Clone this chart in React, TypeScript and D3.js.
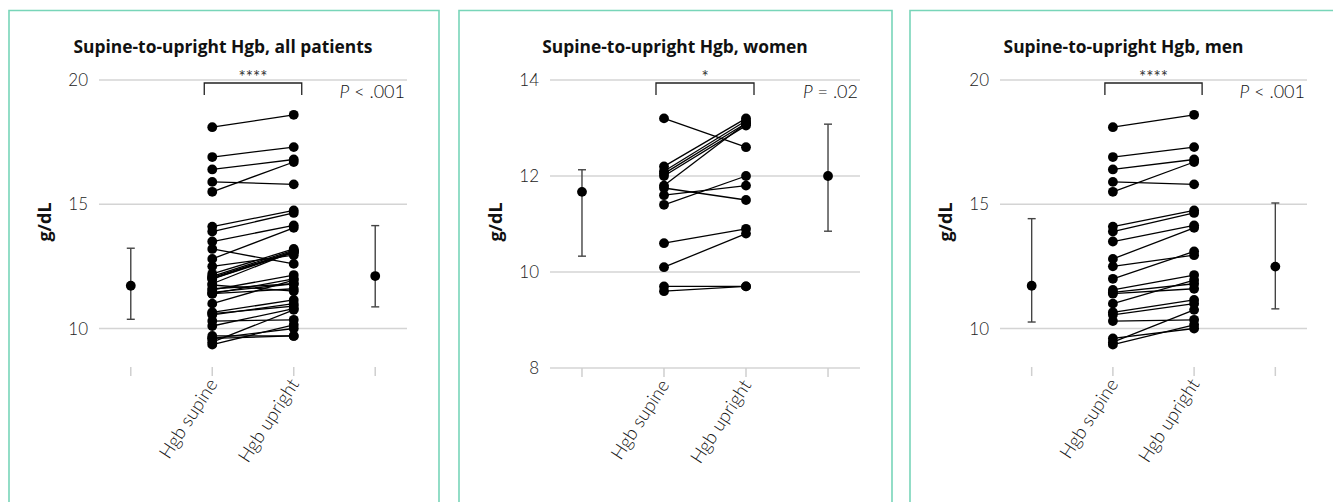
import React from "react";
import * as d3 from "d3";

// ---------- data ----------
const categories = ["mean supine", "Hgb supine", "Hgb upright", "mean upright"];
const xLabels = ["", "Hgb supine", "Hgb upright", ""];

const menSupine = [18.1, 16.9, 16.4, 15.9, 15.5, 14.1, 13.9, 13.5, 12.8, 12.5, 12.0, 11.55, 11.45, 11.4, 11.0, 10.65, 10.55, 10.3, 9.6, 9.45, 9.35];
const menUpright = [18.6, 17.3, 16.8, 15.8, 16.7, 14.75, 14.65, 14.15, 14.05, 12.95, 13.1, 12.15, 11.8, 11.6, 11.95, 11.15, 11.0, 10.35, 10.0, 10.75, 10.15];

const womenSupine = [13.2, 12.2, 12.1, 12.05, 12.0, 11.8, 11.75, 11.6, 11.4, 10.6, 10.1, 9.7, 9.6];
const womenUpright = [12.6, 13.2, 13.15, 13.1, 13.05, 13.1, 11.5, 11.8, 12.0, 10.9, 10.8, 9.7, 9.7];

const allSupine = [...menSupine, ...womenSupine];
const allUpright = [...menUpright, ...womenUpright];

// summary (mean with error bar) for supine / upright
const allMean = [11.72, 12.11];
const allLow = [10.37, 10.87];
const allHigh = [13.23, 14.14];
const womenMean = [11.67, 12.0];
const womenLow = [10.33, 10.85];
const womenHigh = [12.13, 13.08];
const menMean = [11.72, 12.49];
const menLow = [10.26, 10.79];
const menHigh = [14.42, 15.05];

const titles = ["Supine-to-upright Hgb, all patients", "Supine-to-upright Hgb, women", "Supine-to-upright Hgb, men"];
const stars = ["****", "*", "****"];
const pTexts = [" < .001", " = .02", " < .001"];
const ticksWide = [10, 15, 20];
const ticksWomen = [8, 10, 12, 14];

const TITLE_FONT = "'Open Sans', 'Noto Sans', sans-serif";
const FONT = "Lato, 'Open Sans', sans-serif";
const BORDER = "#78d5b9";

type PanelCfg = {
  left: number; right: number;
  gx0: number; gx1: number;
  domain: [number, number];
  bottom: number;
  ticks: number[];
  supine: number[]; upright: number[];
  mean: number[]; low: number[]; high: number[];
  title: string; star: string; p: string;
};

const panels: PanelCfg[] = [
  { left: 9, right: 439, gx0: 99, gx1: 407, domain: [8.45, 20], bottom: 367, ticks: ticksWide,
    supine: allSupine, upright: allUpright, mean: allMean, low: allLow, high: allHigh,
    title: titles[0], star: stars[0], p: pTexts[0] },
  { left: 459, right: 892, gx0: 550, gx1: 860, domain: [8, 14], bottom: 368, ticks: ticksWomen,
    supine: womenSupine, upright: womenUpright, mean: womenMean, low: womenLow, high: womenHigh,
    title: titles[1], star: stars[1], p: pTexts[1] },
  { left: 910, right: 1345, gx0: 1000, gx1: 1307, domain: [8.45, 20], bottom: 367, ticks: ticksWide,
    supine: menSupine, upright: menUpright, mean: menMean, low: menLow, high: menHigh,
    title: titles[2], star: stars[2], p: pTexts[2] },
];

function Panel({ cfg }: { cfg: PanelCfg }) {
  const x = d3.scalePoint<string>().domain(categories).range([cfg.gx0, cfg.gx1]).padding(0.39);
  const y = d3.scaleLinear().domain(cfg.domain).range([cfg.bottom, 80]);
  const xs = x("Hgb supine")!;
  const xu = x("Hgb upright")!;
  const summaryX = [x("mean supine")!, x("mean upright")!];
  const line = d3.line<[number, number]>().x((d) => d[0]).y((d) => d[1]);
  const titleX = (cfg.gx0 + cfg.gx1) / 2 - 30;
  const top = 80;
  return (
    <g>
      <path d={`M${cfg.left},510 V10.5 H${cfg.right} V510`} fill="none" stroke={BORDER} strokeWidth={1.6} />
      <text x={titleX} y={53} textAnchor="middle" fontFamily={TITLE_FONT} fontWeight={700} fontSize={17.4} fill="#111">
        {cfg.title}
      </text>
      <text transform={`translate(${cfg.gx0 - 48},${222}) rotate(-90)`} textAnchor="middle" fontFamily={TITLE_FONT}
        fontWeight={700} fontSize={18} fill="#111">g/dL</text>
      {cfg.ticks.map((t) => (
        <g key={t}>
          <line x1={cfg.gx0} x2={cfg.gx1} y1={y(t)} y2={y(t)} stroke="#d4d4d4" strokeWidth={1.3} />
          <text x={cfg.gx0 - 11} y={y(t)} dy="0.36em" textAnchor="end" fontFamily={FONT} fontWeight={300}
            fontSize={17} fill="#222">{t}</text>
        </g>
      ))}
      {categories.map((c, i) => (
        <g key={c}>
          <line x1={x(c)} x2={x(c)} y1={cfg.bottom} y2={cfg.bottom + 9} stroke="#cfcfcf" strokeWidth={1.5} />
          {xLabels[i] && (
            <text transform={`translate(${x(c)! + 6},${cfg.bottom + 17}) rotate(-57)`} textAnchor="end"
              fontFamily={FONT} fontWeight={300} fontSize={18.5} fill="#111">{xLabels[i]}</text>
          )}
        </g>
      ))}
      <path d={`M${xs - 8},${top + 15} V${top + 3} H${xu + 8} V${top + 15}`} fill="none" stroke="#222" strokeWidth={1.3} />
      <text x={(xs + xu) / 2} y={top + 3} textAnchor="middle" fontFamily={FONT} fontSize={17} fill="#333">{cfg.star}</text>
      <text x={cfg.gx1 - 2} y={top + 18} textAnchor="end" fontFamily={FONT} fontWeight={300} fontSize={18} fill="#111">
        <tspan fontStyle="italic">P</tspan>{cfg.p}
      </text>
      {cfg.supine.map((v, i) => (
        <path key={"l" + i} d={line([[xs, y(v)], [xu, y(cfg.upright[i])]])!} stroke="#000" strokeWidth={1.3} fill="none" />
      ))}
      {cfg.supine.map((v, i) => (
        <circle key={"s" + i} cx={xs} cy={y(v)} r={4.9} fill="#000" />
      ))}
      {cfg.upright.map((v, i) => (
        <circle key={"u" + i} cx={xu} cy={y(v)} r={4.9} fill="#000" />
      ))}
      {summaryX.map((sx, i) => (
        <g key={"e" + i}>
          <line x1={sx} x2={sx} y1={y(cfg.low[i])} y2={y(cfg.high[i])} stroke="#444" strokeWidth={1.4} />
          <line x1={sx - 4} x2={sx + 4} y1={y(cfg.low[i])} y2={y(cfg.low[i])} stroke="#444" strokeWidth={1.4} />
          <line x1={sx - 4} x2={sx + 4} y1={y(cfg.high[i])} y2={y(cfg.high[i])} stroke="#444" strokeWidth={1.4} />
          <circle cx={sx} cy={y(cfg.mean[i])} r={4.9} fill="#000" />
        </g>
      ))}
    </g>
  );
}

export default function App() {
  return (
    <svg width={1333} height={502} style={{ position: "absolute", left: 0, top: 0, background: "#fff" }}>
      <rect width={1333} height={502} fill="#fff" />
      {panels.map((p, i) => (
        <Panel key={i} cfg={p} />
      ))}
    </svg>
  );
}
